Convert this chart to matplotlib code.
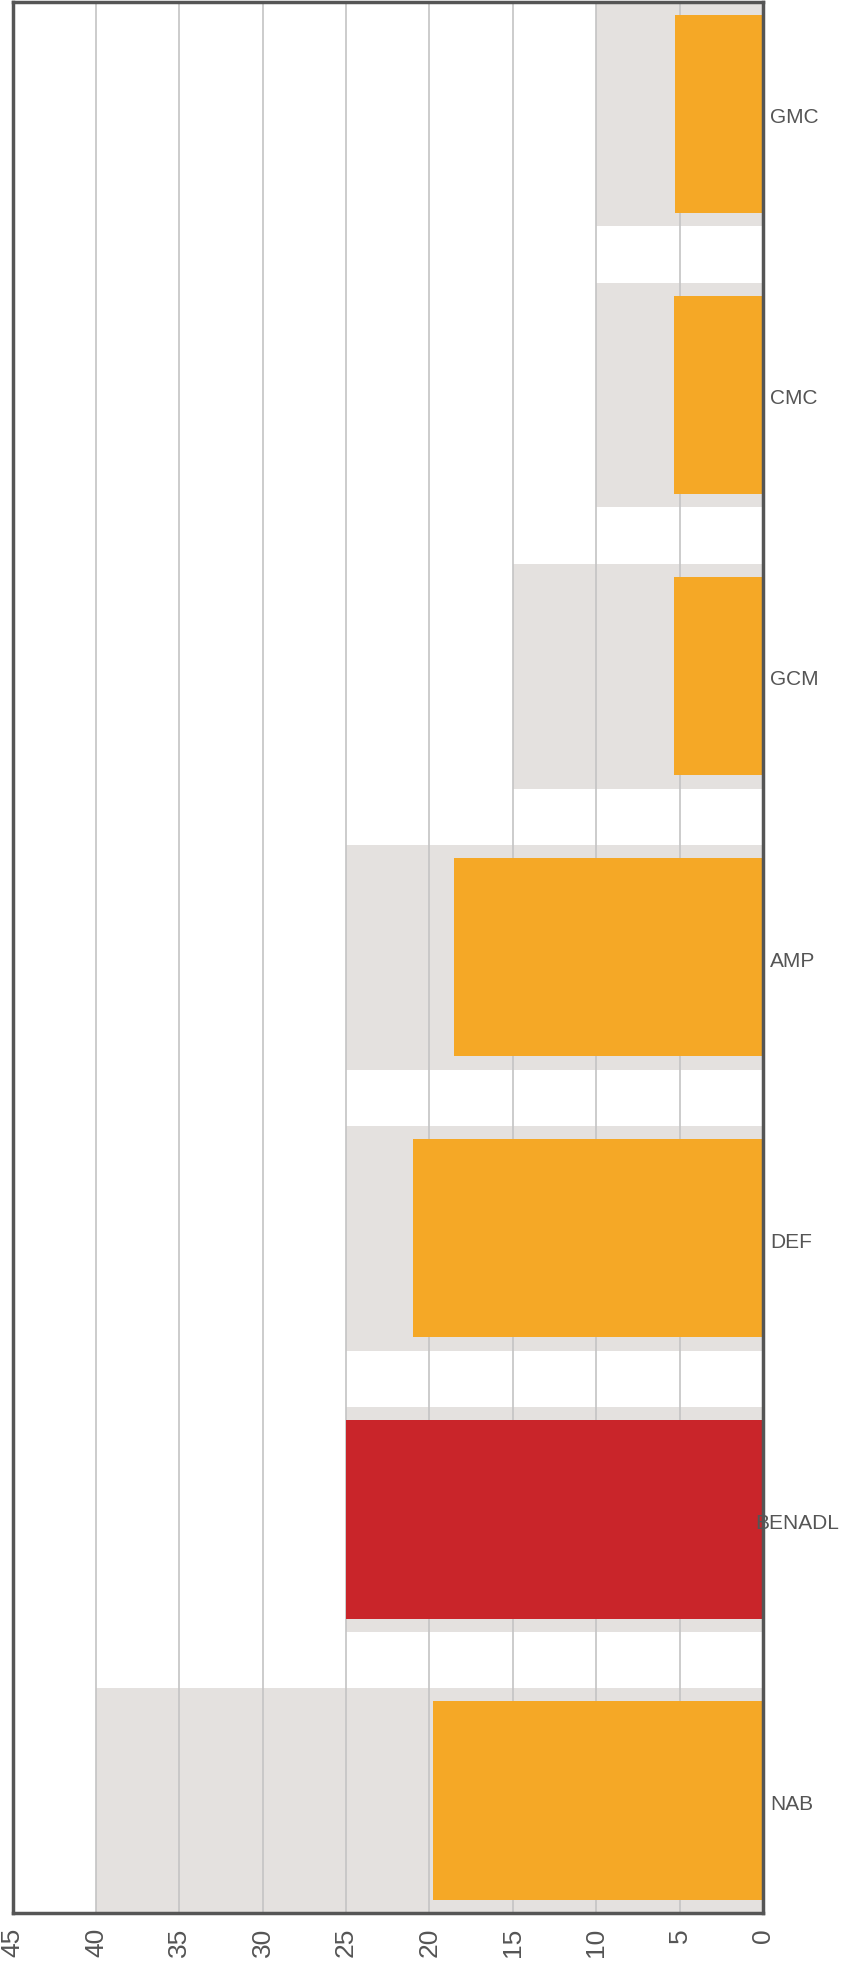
import matplotlib
matplotlib.use("Agg")
import matplotlib.pyplot as plt
import matplotlib.transforms as mtransforms

plt.rcParams['font.family'] = ['Liberation Sans', 'DejaVu Sans']

# scores per group, and the reference range shown behind each bar
categories = ['GMC', 'CMC', 'GCM', 'AMP', 'DEF', 'BENADL', 'NAB']
values = [5.3, 5.35, 5.35, 18.5, 21.0, 25.0, 19.8]
ranges = [10, 10, 15, 25, 25, 25, 40]
highlight = 'BENADL'
x_ticks = [0, 5, 10, 15, 20, 25, 30, 35, 40, 45]

ORANGE = '#f5a826'
RED = '#c9252a'
BAND = '#e4e1df'
GRID = '#c4c4c4'
INK = '#555555'

W, H = 841, 1965
fig = plt.figure(figsize=(W / 100, H / 100), dpi=100)
ax = fig.add_axes([12.5 / W, 1 - 1914 / H, (763 - 12.5) / W, (1914 - 2.5) / H])

ypos = list(range(len(categories)))

# gray range bands, then grid lines, then the bars on top
ax.barh(ypos, ranges, height=0.8, color=BAND, zorder=1)
for t in x_ticks[1:-1]:
    ax.axvline(t, color=GRID, linewidth=1.2, zorder=1.5)
colors = [RED if c == highlight else ORANGE for c in categories]
ax.barh(ypos, values, height=0.705, color=colors, zorder=2)

ax.set_xlim(45, 0)
ax.set_ylim(len(categories) - 0.6, -0.4)

ax.set_xticks(x_ticks)
ax.set_xticklabels([str(t) for t in x_ticks], rotation=90, fontsize=19, color=INK)
ax.tick_params(axis='x', length=0, pad=10)
ax.set_yticks([])

for side in ['left', 'right', 'top', 'bottom']:
    ax.spines[side].set_color(INK)
    ax.spines[side].set_linewidth(2.5)

# category names to the right of the zero line, kept inside the figure
trans = mtransforms.blended_transform_factory(fig.transFigure, ax.transData)
renderer = fig.canvas.get_renderer()
for y, name in zip(ypos, categories):
    txt = ax.text(770 / W, y + 0.01, name, transform=trans, ha='left', va='center',
                  fontsize=15, color=INK, clip_on=False, zorder=3)
    bb = txt.get_window_extent(renderer)
    if bb.x1 > W - 2:
        txt.set_x((W - 2) / W)
        txt.set_ha('right')

fig.savefig('out.png', dpi=100)
